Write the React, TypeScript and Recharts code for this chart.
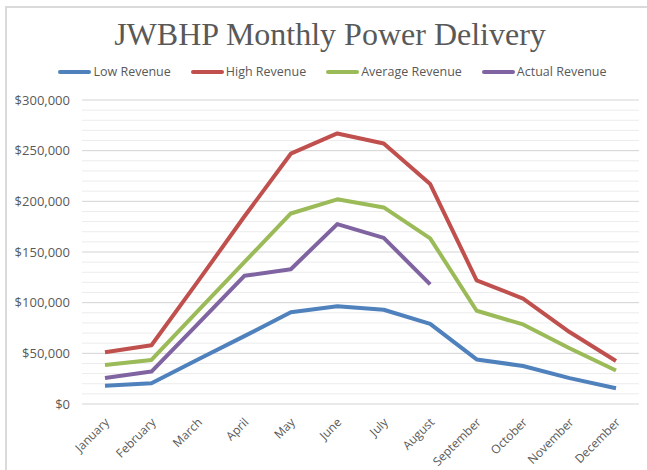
import React from "react";
import { LineChart, Line, XAxis, YAxis, CartesianGrid, ReferenceLine } from "recharts";

const months = [
  "January",
  "February",
  "March",
  "April",
  "May",
  "June",
  "July",
  "August",
  "September",
  "October",
  "November",
  "December",
];

const lowRevenue = [18000, 20500, 44000, 67000, 90500, 96500, 93000, 79000, 44000, 37500, 25500, 15500];
const highRevenue = [51000, 58000, 121000, 185000, 247000, 267000, 257000, 217000, 122000, 104000, 71000, 42500];
const averageRevenue = [38500, 43500, 92000, 140000, 188000, 202000, 194000, 163500, 92000, 78500, 55000, 33000];
const actualRevenue = [25700, 32000, 79000, 126500, 133000, 177500, 164000, 118000, null, null, null, null];

const majorTicks = [0, 50000, 100000, 150000, 200000, 250000, 300000];
const minorTicks = [
  10000, 20000, 30000, 40000, 60000, 70000, 80000, 90000, 110000, 120000,
  130000, 140000, 160000, 170000, 180000, 190000, 210000, 220000, 230000,
  240000, 260000, 270000, 280000, 290000,
];

const series = [
  { key: "low", name: "Low Revenue", color: "#4F81BD" },
  { key: "high", name: "High Revenue", color: "#C0504D" },
  { key: "average", name: "Average Revenue", color: "#9BBB59" },
  { key: "actual", name: "Actual Revenue", color: "#8064A2" },
];

const data = months.map((month, i) => ({
  month,
  low: lowRevenue[i],
  high: highRevenue[i],
  average: averageRevenue[i],
  actual: actualRevenue[i],
}));

const FONT = "'Open Sans', 'Liberation Sans', sans-serif";
const TEXT = "#595959";

const formatMoney = (v: number) => "$" + v.toLocaleString("en-US");

const MonthTick = ({ x, y, payload }: any) => (
  <g transform={`translate(${x + 5},${y + 11})`}>
    <text
      x={0}
      y={0}
      textAnchor="end"
      transform="rotate(-45)"
      fill={TEXT}
      fontSize={12}
      fontFamily={FONT}
    >
      {payload.value}
    </text>
  </g>
);

const ChartLegend = () => (
  <div
    style={{
      position: "absolute",
      left: 0,
      top: 63,
      width: 665,
      display: "flex",
      justifyContent: "center",
      gap: 20,
      fontFamily: FONT,
      fontSize: 12.5,
      color: TEXT,
    }}
  >
    {series.map((s) => (
      <div key={s.key} style={{ display: "flex", alignItems: "center" }}>
        <div
          style={{
            width: 33,
            height: 4,
            borderRadius: 2,
            backgroundColor: s.color,
            marginRight: 2,
          }}
        />
        <span>{s.name}</span>
      </div>
    ))}
  </div>
);

export default function App() {
  return (
    <div
      style={{
        position: "absolute",
        left: 0,
        top: 0,
        width: 647,
        height: 470,
        overflow: "hidden",
        background: "#fff",
      }}
    >
      <div
        style={{
          position: "absolute",
          left: 5,
          top: 6,
          width: 700,
          height: 500,
          borderLeft: "2px solid #dadada",
          borderTop: "2px solid #dadada",
        }}
      />
      <div
        style={{
          position: "absolute",
          left: 0,
          top: 16,
          width: 660,
          textAlign: "center",
          fontFamily: "'Liberation Serif', serif",
          fontSize: 32,
          color: TEXT,
        }}
      >
        JWBHP Monthly Power Delivery
      </div>
      <ChartLegend />
      <div style={{ position: "absolute", left: 0, top: 0 }}>
        <LineChart
          width={647}
          height={470}
          data={data}
          margin={{ top: 100, right: 8, bottom: 6, left: 0 }}
        >
          {minorTicks.map((v) => (
            <ReferenceLine key={v} y={v} stroke="#ececec" strokeWidth={1} />
          ))}
          <CartesianGrid vertical={false} stroke="#d4d4d4" />
          <XAxis
            dataKey="month"
            interval={0}
            tick={<MonthTick />}
            tickLine={false}
            axisLine={false}
            height={60}
            padding={{ left: 23, right: 23 }}
          />
          <YAxis
            width={82}
            domain={[0, 300000]}
            ticks={majorTicks}
            tickFormatter={formatMoney}
            tickLine={false}
            axisLine={false}
            tickSize={0}
            tickMargin={12}
            tick={{ fill: TEXT, fontSize: 13, fontFamily: FONT }}
          />
          {series.map((s) => (
            <Line
              key={s.key}
              name={s.name}
              dataKey={s.key}
              stroke={s.color}
              strokeWidth={4}
              dot={false}
              strokeLinejoin="round"
              isAnimationActive={false}
            />
          ))}
        </LineChart>
      </div>
    </div>
  );
}
